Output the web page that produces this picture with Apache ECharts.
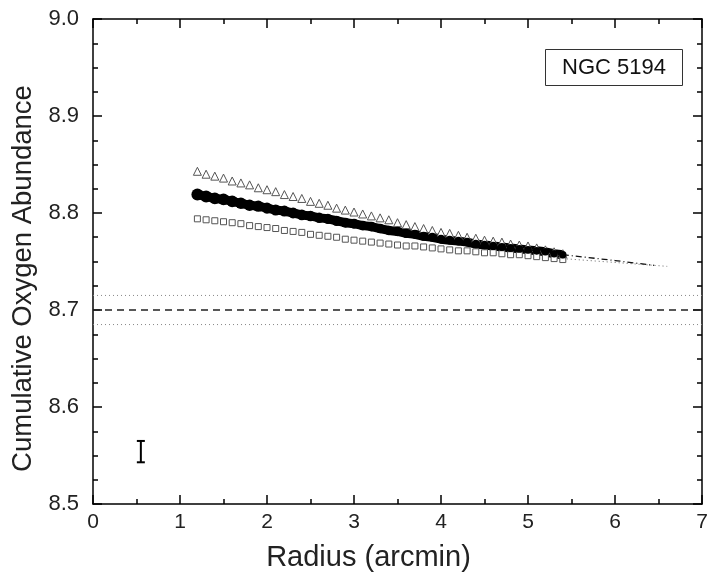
<!DOCTYPE html>
<html><head><meta charset="utf-8">
<script src="https://cdn.jsdelivr.net/npm/echarts@6/dist/echarts.min.js"></script>
<style>html,body{margin:0;padding:0;background:#fff}#c{width:712px;height:581px}</style>
</head><body><div id="c"></div>
<script>
const radius = [1.2,1.3,1.4,1.5,1.6,1.7,1.8,1.9,2.0,2.1,2.2,2.3,2.4,2.5,2.6,2.7,2.8,2.9,3.0,3.1,3.2,3.3,3.4,3.5,3.6,3.7,3.8,3.9,4.0,4.1,4.2,4.3,4.4,4.5,4.6,4.7,4.8,4.9,5.0,5.1,5.2,5.3,5.4];
const triangles = [8.843,8.840,8.838,8.836,8.833,8.831,8.829,8.826,8.824,8.822,8.819,8.817,8.815,8.812,8.810,8.808,8.805,8.803,8.801,8.799,8.797,8.795,8.793,8.790,8.788,8.786,8.784,8.782,8.780,8.779,8.777,8.775,8.774,8.772,8.771,8.770,8.768,8.767,8.766,8.764,8.762,8.760,8.758];
const circles = [8.819,8.817,8.815,8.814,8.812,8.810,8.808,8.807,8.805,8.803,8.802,8.800,8.798,8.797,8.795,8.794,8.792,8.790,8.789,8.787,8.786,8.784,8.782,8.781,8.779,8.778,8.776,8.775,8.773,8.772,8.771,8.770,8.768,8.767,8.766,8.765,8.764,8.763,8.762,8.761,8.760,8.758,8.757];
const squares = [8.794,8.793,8.792,8.791,8.790,8.789,8.787,8.786,8.785,8.784,8.782,8.781,8.780,8.778,8.777,8.776,8.775,8.773,8.772,8.771,8.770,8.769,8.768,8.767,8.766,8.766,8.765,8.764,8.763,8.762,8.761,8.761,8.760,8.759,8.759,8.758,8.757,8.757,8.756,8.755,8.754,8.753,8.752];
const extDashX = [5.4, 6.0, 6.45];
const extDashY = [8.757, 8.751, 8.746];
const extDotX = [5.4, 6.0, 6.6];
const extDotY = [8.753, 8.749, 8.745];
const meanLevel = 8.70;
const meanBand = [8.685, 8.715];
const errX = 0.55, errLow = 8.543, errHigh = 8.565;
const label = 'NGC 5194';

const zip = (xs, ys) => xs.map((x, i) => [x, ys[i]]);
const FONT = 'Liberation Sans, Arial, sans-serif';
const chart = echarts.init(document.getElementById('c'));
const baseX = {type:'value', min:0, max:7, interval:1,
  axisLine:{show:true, onZero:false, lineStyle:{color:'#000', width:1.5}},
  axisTick:{show:true, inside:true, length:9, lineStyle:{color:'#000', width:1.5}},
  minorTick:{show:true, splitNumber:2, length:5, lineStyle:{color:'#000', width:1.5}},
  splitLine:{show:false}};
const baseY = {type:'value', min:8.5, max:9.0, interval:0.1,
  axisLine:{show:true, onZero:false, lineStyle:{color:'#000', width:1.5}},
  axisTick:{show:true, inside:true, length:9, lineStyle:{color:'#000', width:1.5}},
  minorTick:{show:true, splitNumber:4, length:5, lineStyle:{color:'#000', width:1.5}},
  splitLine:{show:false}};
chart.setOption({
  animation:false,
  backgroundColor:'#fff',
  grid:{left:93, right:10, top:19, bottom:77},
  xAxis:[
    Object.assign({}, baseX, {position:'bottom', name:'Radius (arcmin)', nameLocation:'middle', nameGap:39,
      nameTextStyle:{fontFamily:FONT, fontSize:29, color:'#222', padding:[0,58,0,0]},
      axisLabel:{fontFamily:FONT, fontSize:21, color:'#222', margin:8}}),
    Object.assign({}, baseX, {position:'top', axisLabel:{show:false}})
  ],
  yAxis:[
    Object.assign({}, baseY, {position:'left', name:'Cumulative Oxygen Abundance', nameLocation:'middle', nameGap:47,
      nameTextStyle:{fontFamily:FONT, fontSize:27.5, color:'#222', padding:[0,34,0,0]},
      axisLabel:{fontFamily:FONT, fontSize:22, color:'#222', margin:14, formatter:v=>v.toFixed(1)}}),
    Object.assign({}, baseY, {position:'right', axisLabel:{show:false}})
  ],
  series:[
    {type:'line', data:[[0,meanBand[1]],[7,meanBand[1]]], symbol:'none', lineStyle:{color:'#888', width:1, type:[1,3]}, silent:true},
    {type:'line', data:[[0,meanBand[0]],[7,meanBand[0]]], symbol:'none', lineStyle:{color:'#888', width:1, type:[1,3]}, silent:true},
    {type:'line', data:[[0,meanLevel],[7,meanLevel]], symbol:'none', lineStyle:{color:'#222', width:1.5, type:[7,5]}, silent:true},
    {type:'line', data:zip(extDotX, extDotY), symbol:'none', lineStyle:{color:'#666', width:1, type:[1,3]}},
    {type:'line', data:zip(extDashX, extDashY), symbol:'none', lineStyle:{color:'#111', width:1.3, type:[6,3,1,3]}},
    {type:'line', data:zip(radius, squares), symbol:'rect', symbolSize:6, showSymbol:true,
      itemStyle:{color:'#fff', borderColor:'#555', borderWidth:1}, lineStyle:{width:0}},
    {type:'line', data:zip(radius, triangles), symbol:'triangle', symbolSize:8, showSymbol:true,
      itemStyle:{color:'#fff', borderColor:'#555', borderWidth:1}, lineStyle:{width:0}},
    {type:'line', data:zip(radius, circles), symbol:'circle',
      symbolSize:(v)=>12 - (v[0]-1.2)*1.1, showSymbol:true,
      itemStyle:{color:'#000', borderWidth:0}, lineStyle:{color:'#000', width:9}},
    {type:'custom', data:[[errX, errLow, errHigh]], renderItem:(params, api)=>{
      const lo = api.coord([api.value(0), api.value(1)]);
      const hi = api.coord([api.value(0), api.value(2)]);
      const w = 4;
      return {type:'group', children:[
        {type:'line', shape:{x1:lo[0], y1:lo[1], x2:hi[0], y2:hi[1]}, style:{stroke:'#000', lineWidth:2}},
        {type:'line', shape:{x1:lo[0]-w, y1:lo[1], x2:lo[0]+w, y2:lo[1]}, style:{stroke:'#000', lineWidth:2}},
        {type:'line', shape:{x1:hi[0]-w, y1:hi[1], x2:hi[0]+w, y2:hi[1]}, style:{stroke:'#000', lineWidth:2}}
      ]};
    }}
  ],
  graphic:[
    {type:'group', left:545, top:49, children:[
      {type:'rect', shape:{x:0, y:0, width:137, height:36}, style:{fill:'#fff', stroke:'#333', lineWidth:1}},
      {type:'text', x:68.5, y:18, style:{text:label, fontFamily:FONT, fontSize:22, fill:'#111', align:'center', verticalAlign:'middle'}}
    ]}
  ]
});
</script></body></html>
